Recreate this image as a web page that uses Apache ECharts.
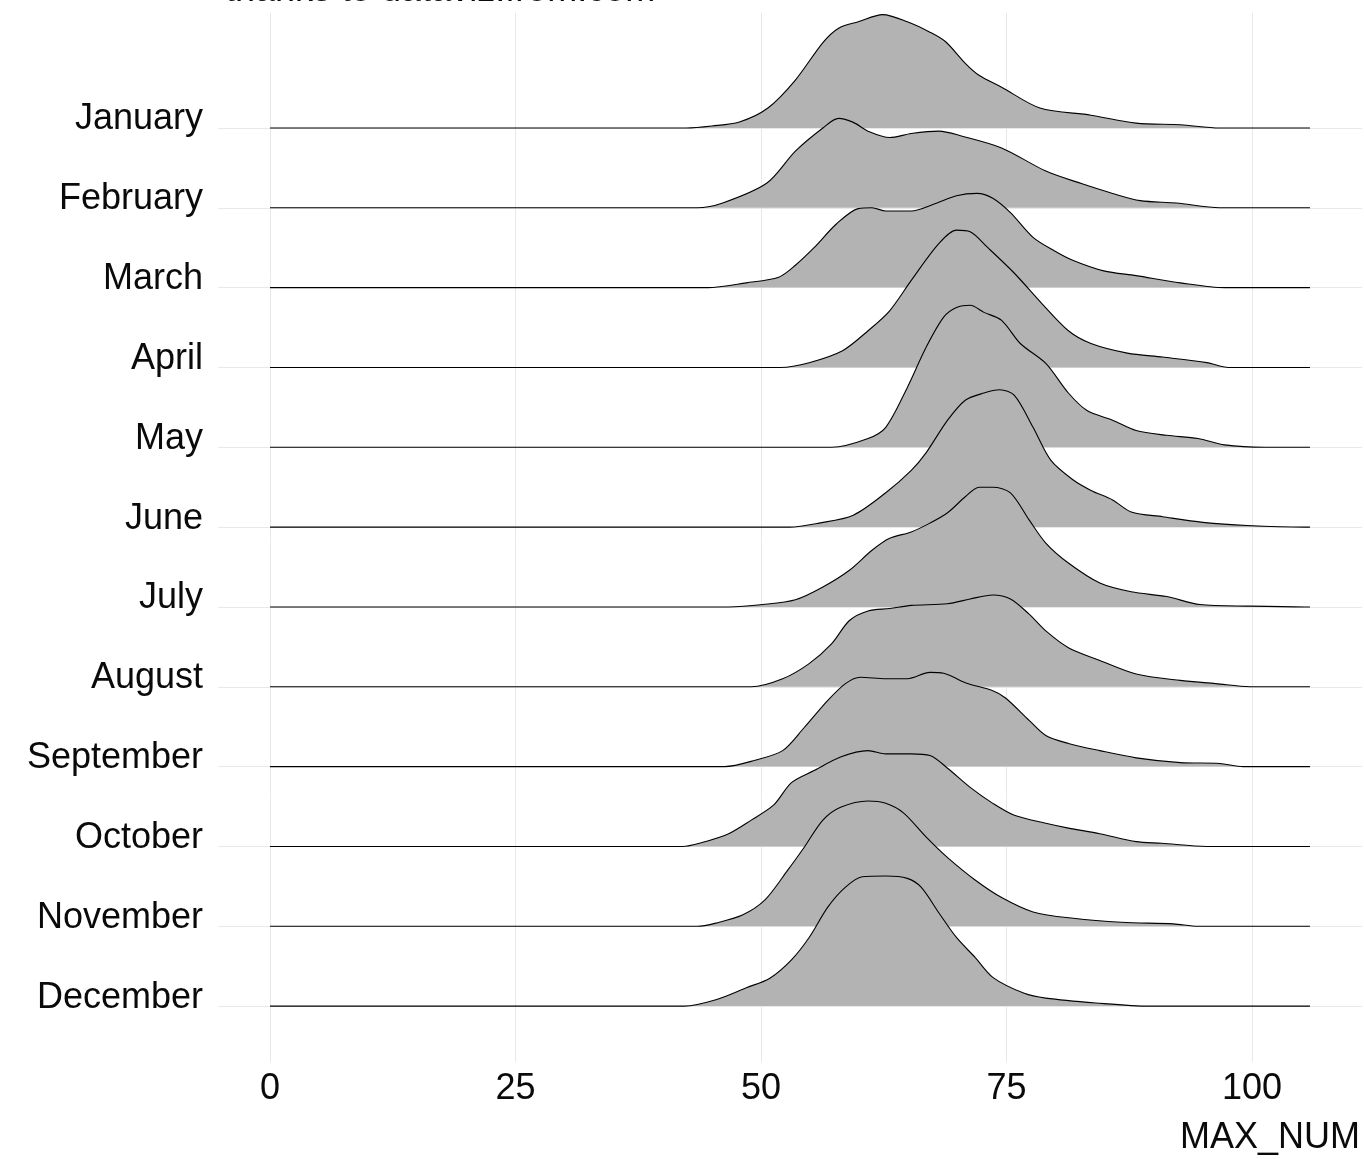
<!DOCTYPE html>
<html><head><meta charset="utf-8">
<script src="https://cdn.jsdelivr.net/npm/echarts@6/dist/echarts.min.js"></script>
<style>html,body{margin:0;padding:0;background:#fff}#c{width:1364px;height:1159px}</style>
</head><body><div id="c"></div>
<script>
const months = ['January','February','March','April','May','June','July','August','September','October','November','December'];
const xTicks = [0, 25, 50, 75, 100];
const xStart = 0, xEnd = 105.9;
const caption = 'thanks to dataviz.from.com';
const axisTitle = 'MAX_NUM';

// ridge heights ([MAX_NUM, height in row units])
const jan = [[42.4,0],[45,0.025],[47.8,0.075],[50.7,0.25],[53.5,0.6],[56.3,1.07],[57.9,1.25],[59.9,1.33],[62.4,1.42],[64.9,1.33],[67.2,1.2],[68.8,1.08],[70.8,0.81],[72.2,0.66],[74.5,0.51],[78.4,0.25],[83.6,0.16],[88.2,0.06],[92.7,0.04],[96.7,0]];
const feb = [[43.5,0],[46.1,0.06],[50.6,0.31],[53.5,0.71],[56.3,1.0],[57.9,1.12],[59.4,1.07],[60.9,0.96],[63.1,0.88],[65.3,0.93],[68.1,0.96],[70.4,0.9],[74.5,0.75],[79,0.46],[82.7,0.3],[85.8,0.18],[88.6,0.09],[92.3,0.06],[96.7,0]];
const mar = [[44.6,0],[48.5,0.06],[51.8,0.13],[53.5,0.28],[55.4,0.5],[57.7,0.8],[59.9,0.99],[61.3,1.0],[62.7,0.96],[65.3,0.96],[67.7,1.05],[69.9,1.15],[72,1.18],[73.6,1.12],[75.4,0.94],[77.7,0.63],[79.9,0.46],[81.8,0.34],[84.9,0.21],[88.2,0.15],[92.7,0.06],[97.2,0]];
const apr = [[52,0],[54.9,0.06],[58.3,0.21],[60.9,0.46],[63.1,0.71],[65.3,1.09],[68.1,1.55],[69.9,1.72],[71.3,1.7],[73.1,1.5],[75.8,1.18],[78.6,0.8],[81.3,0.46],[83.6,0.3],[87.3,0.18],[90.9,0.13],[95.4,0.06],[97.6,0]];
const may = [[57.2,0],[60.9,0.11],[62.7,0.25],[64.9,0.75],[66.8,1.25],[68.6,1.63],[69.9,1.75],[71.3,1.78],[72.7,1.69],[74.5,1.59],[76.4,1.3],[79,1.05],[81.3,0.68],[83.2,0.46],[85.8,0.34],[88.2,0.21],[91.3,0.15],[94.5,0.11],[97.2,0.03],[101.3,0]];
const jun = [[52.9,0],[55.9,0.05],[59.4,0.15],[62.7,0.43],[65.3,0.71],[66.8,0.93],[69,1.34],[70.8,1.59],[72.7,1.68],[74.3,1.72],[75.8,1.65],[77.7,1.25],[79.5,0.84],[81.8,0.59],[83.6,0.46],[85.8,0.34],[87.7,0.19],[90.9,0.13],[95,0.06],[99.5,0.02],[105.4,0]];
const jul = [[46.7,0],[50.2,0.03],[53.5,0.09],[56.3,0.25],[59,0.46],[61.3,0.71],[63.1,0.86],[65.3,0.94],[67.2,1.05],[69,1.18],[70.8,1.38],[72.2,1.5],[73.6,1.5],[75.4,1.43],[77.3,1.09],[79,0.8],[81.3,0.55],[84.5,0.3],[87.7,0.19],[91.3,0.13],[94.7,0.03],[99.8,0.01],[105.4,0]];
const aug = [[49,0],[52.2,0.1],[54.9,0.29],[57.2,0.54],[59,0.83],[60.9,0.95],[63.1,0.98],[65.3,1.02],[69,1.04],[71.3,1.1],[73.6,1.15],[75.4,1.1],[77.3,0.91],[79,0.7],[81.3,0.49],[84.5,0.33],[88.2,0.16],[92.7,0.08],[96.3,0.04],[99.8,0]];
const sep = [[46.3,0],[49.4,0.08],[52.2,0.2],[54.4,0.49],[56.8,0.83],[58.6,1.04],[60.1,1.12],[62.7,1.1],[64.9,1.1],[67.2,1.18],[68.6,1.17],[70.8,1.05],[73.6,0.95],[74.9,0.86],[77.3,0.58],[79,0.39],[81.3,0.29],[84.5,0.2],[88.2,0.11],[92.7,0.05],[96.7,0.04],[99.1,0]];
const oct = [[42,0],[44,0.05],[46.7,0.16],[49,0.33],[51.3,0.52],[53.1,0.8],[55.4,0.95],[58.1,1.12],[60.9,1.2],[62.7,1.16],[65.3,1.16],[67.2,1.14],[69,0.98],[71.3,0.74],[73.6,0.54],[75.8,0.39],[79,0.29],[81.3,0.23],[84.5,0.16],[88.2,0.06],[90.8,0.04],[95.4,0]];
const nov = [[43.5,0],[45.4,0.04],[48.1,0.14],[50.4,0.33],[52.7,0.7],[54.4,0.99],[56.3,1.33],[58.1,1.49],[60.9,1.57],[62.7,1.54],[64.5,1.42],[66.8,1.12],[69,0.86],[71.8,0.58],[74.5,0.36],[77.7,0.18],[81.8,0.1],[86.7,0.05],[92,0.03],[94.5,0]];
const dec = [[42.2,0],[45.4,0.08],[48.5,0.23],[50.9,0.35],[53.1,0.58],[54.9,0.86],[56.8,1.24],[58.6,1.49],[60.3,1.62],[62.7,1.63],[64.9,1.6],[66.3,1.49],[68.1,1.17],[69.9,0.86],[71.8,0.61],[73.6,0.36],[76.8,0.16],[79,0.1],[84.1,0.04],[89.5,0]];

const ridges = [jan, feb, mar, apr, may, jun, jul, aug, sep, oct, nov, dec];
const rowValues = months.map((m, i) => months.length - i); // January on top

const series = ridges.map((pts, i) => {
  const base = rowValues[i];
  const full = [[xStart, 0]].concat(pts, [[xEnd, 0]]);
  return {
    type: 'line', name: months[i],
    data: full.map(p => [p[0], base + p[1]]),
    smooth: 0.3, symbol: 'none', silent: true,
    lineStyle: { color: '#000', width: 1.1 },
    areaStyle: { color: '#b3b3b3', opacity: 1, origin: base }
  };
});

const font = 'Liberation Sans';
const chart = echarts.init(document.getElementById('c'));
chart.setOption({
  animation: false,
  backgroundColor: '#fff',
  grid: { left: 218, right: 2, top: 13, bottom: 97, containLabel: false, outerBoundsMode: 'none' },
  xAxis: {
    type: 'value', min: -5.3, max: 111.2,
    axisLine: { show: false },
    axisTick: { show: false, customValues: xTicks },
    axisLabel: { customValues: xTicks, fontSize: 36, fontFamily: font, color: '#0a0a0a', margin: 9, lineHeight: 36 },
    splitLine: { show: true, lineStyle: { color: '#e8e8e8', width: 1 } }
  },
  yAxis: {
    type: 'value', min: 0.3, max: 13.44,
    axisLine: { show: false },
    axisTick: { show: false, customValues: rowValues },
    axisLabel: {
      customValues: rowValues, fontSize: 36, fontFamily: font, color: '#0a0a0a', margin: 15,
      verticalAlign: 'bottom', lineHeight: 17,
      formatter: v => months[months.length - Math.round(v)]
    },
    splitLine: { show: true, lineStyle: { color: '#e8e8e8', width: 1 } }
  },
  graphic: [{
    type: 'text', x: 225, y: -9, silent: true,
    style: { text: caption, font: '36px "Liberation Sans"', fill: '#0a0a0a', verticalAlign: 'middle' }
  }, {
    type: 'text', x: 1360, y: 1138, silent: true,
    style: { text: axisTitle, font: '36px "Liberation Sans"', fill: '#0a0a0a', align: 'right', verticalAlign: 'middle' }
  }],
  series: series
});
</script></body></html>
